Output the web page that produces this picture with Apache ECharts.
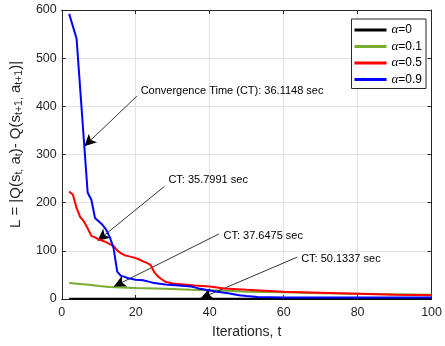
<!DOCTYPE html>
<html><head><meta charset="utf-8">
<script src="https://cdn.jsdelivr.net/npm/echarts@6/dist/echarts.min.js"></script>
<style>html,body{margin:0;padding:0;background:#fff}#c{width:445px;height:346px}</style>
</head><body><div id="c"></div>
<script>
const FONT = '"Liberation Sans", Arial, Helvetica, sans-serif';
const AX = '#262626';

const seriesNames = ['α=0', 'α=0.1', 'α=0.5', 'α=0.9'];
const seriesColors = ['#000000', '#77AC30', '#FF0000', '#0000FF'];

const xTicks = [0, 20, 40, 60, 80, 100];
const yTicks = [0, 100, 200, 300, 400, 500, 600];

// alpha = 0
const tA0 = [2, 100];
const vA0 = [0.5, 0.5];
// alpha = 0.1
const tA1 = [2, 5, 8, 10, 13, 16, 20, 25, 30, 35, 40, 45, 50, 60, 70, 80, 90, 100];
const vA1 = [33, 31, 29, 27, 25, 24, 23, 22, 21, 19, 18, 17, 15, 14, 12, 11, 10, 9];
// alpha = 0.5
const tA5 = [2, 3, 4, 5, 6, 7, 8, 9, 10, 12, 13, 14, 15, 16, 17, 18, 19, 20, 21, 22, 23, 24, 25, 26, 27, 28, 29, 30, 33, 36, 40, 44, 50, 55, 60, 70, 80, 90, 100];
const vA5 = [223, 217, 189, 170, 161, 147, 131, 128, 124, 118, 114, 110, 101, 95, 91, 89, 87, 85, 82, 78, 75, 71, 56, 47, 41, 36, 34, 32, 30, 28, 26, 22, 19, 17, 15, 13, 11, 9, 8];
// alpha = 0.9
const tA9 = [2, 4, 7, 8, 9, 11, 12, 13, 14, 15, 16, 17, 18, 20, 22, 24, 25, 28, 30, 35, 37, 39, 42, 45, 48, 50, 53, 60, 80, 100];
const vA9 = [592, 541, 221, 206, 168, 154, 144, 128, 106, 57, 48, 46, 43, 40, 39, 35, 33, 30, 29, 26, 22, 19, 15, 12, 8, 6, 4, 3, 3, 3];

// annotations: text, text anchor [t, L], arrow start [t, L], arrow tip [t, L]
const annTexts = ['Convergence Time (CT): 36.1148 sec', 'CT: 35.7991 sec', 'CT: 37.6475 sec', 'CT: 50.1337 sec'];
const annTextAt = [[21.2, 431], [28.7, 248], [43.6, 131], [64.6, 83]];
const annFrom = [[20.3, 421], [27.8, 234], [42.5, 135], [63.7, 87]];
const annTo = [[6.1, 317], [9.7, 121], [14.1, 26], [37.6, 1.5]];

const seriesT = [tA0, tA1, tA5, tA9];
const seriesV = [vA0, vA1, vA5, vA9];

const chart = echarts.init(document.getElementById('c'), null, {renderer: 'canvas'});

const lineSeries = seriesNames.map((name, i) => ({
  name: name,
  type: 'line',
  data: seriesT[i].map((t, j) => [t, seriesV[i][j]]),
  showSymbol: false,
  symbol: 'none',
  lineStyle: {color: seriesColors[i], width: 2},
  itemStyle: {color: seriesColors[i]},
  z: 3 + i
}));

const annSeries = {
  name: 'annotations',
  type: 'line',
  data: [],
  silent: true,
  z: 10,
  markLine: {
    silent: true,
    symbol: ['none', 'arrow'],
    symbolSize: [9, 12],
    lineStyle: {color: '#000', width: 0.8, type: 'solid'},
    label: {show: false},
    data: annFrom.map((f, i) => [{coord: f}, {coord: annTo[i]}])
  },
  markPoint: {
    silent: true,
    symbol: 'circle',
    symbolSize: 1,
    itemStyle: {color: 'rgba(0,0,0,0)'},
    label: {show: true, position: 'right', distance: 0, color: '#000', fontSize: 11, fontFamily: FONT},
    data: annTextAt.map((p, i) => ({coord: p, value: annTexts[i], label: {formatter: annTexts[i]}}))
  }
};

const yName = '{p| }{n|L = |Q(s}{s|t,}{n| a}{s|t}{n|)- Q(s}{s|t+1,}{n| a}{s|t+1}{n|)|}';

chart.setOption({
  animation: false,
  backgroundColor: '#fff',
  textStyle: {fontFamily: FONT},
  grid: {left: 59, right: 11, top: 10, bottom: 47},
  legend: {
    data: seriesNames,
    orient: 'vertical',
    right: 19, top: 19,
    backgroundColor: '#fff',
    borderColor: AX, borderWidth: 1,
    padding: [4, 4, 2, 3],
    itemGap: 2.5,
    itemWidth: 32, itemHeight: 3,
    icon: 'rect',
    formatter: n => '{a|α}{b|' + n.slice(1) + '}',
    textStyle: {
      color: '#000', fontSize: 12, lineHeight: 14,
      rich: {
        a: {fontFamily: '"Liberation Serif", serif', fontStyle: 'italic', fontSize: 13, color: '#000'},
        b: {fontFamily: FONT, fontSize: 12, color: '#000'}
      }
    }
  },
  xAxis: [{
    type: 'value', min: 0, max: 100, interval: 20, position: 'bottom',
    axisLine: {show: true, onZero: false, lineStyle: {color: AX, width: 1}},
    axisTick: {show: true, inside: true, length: 4, lineStyle: {color: AX}},
    axisLabel: {color: AX, fontSize: 12.5, margin: 7, formatter: v => xTicks.includes(v) ? String(v) : ''},
    splitLine: {show: true, lineStyle: {color: '#e2e2e2', width: 1}},
    name: 'Iterations, t', nameLocation: 'middle', nameGap: 26,
    nameTextStyle: {fontSize: 14, color: AX}
  }, {
    type: 'value', min: 0, max: 100, interval: 20, position: 'top',
    axisLine: {show: true, onZero: false, lineStyle: {color: AX, width: 1}},
    axisTick: {show: true, inside: true, length: 4, lineStyle: {color: AX}},
    axisLabel: {show: false}, splitLine: {show: false}
  }],
  yAxis: [{
    type: 'value', min: 0, max: 600, interval: 100, position: 'left',
    axisLine: {show: true, onZero: false, lineStyle: {color: AX, width: 1}},
    axisTick: {show: true, inside: true, length: 4, lineStyle: {color: AX}},
    axisLabel: {color: AX, fontSize: 12.5, margin: 5, formatter: v => yTicks.includes(v) ? String(v) : ''},
    splitLine: {show: true, lineStyle: {color: '#e2e2e2', width: 1}},
    name: yName, nameLocation: 'middle', nameGap: 33, nameRotate: 90,
    nameTextStyle: {
      color: AX,
      rich: {
        p: {width: 20, fontSize: 14, lineHeight: 14, verticalAlign: 'top'},
        n: {fontSize: 15, lineHeight: 15, verticalAlign: 'top', color: AX, fontFamily: FONT},
        s: {fontSize: 10.5, lineHeight: 10, padding: [6, 0, 0, 0], verticalAlign: 'top', color: AX, fontFamily: FONT}
      }
    }
  }, {
    type: 'value', min: 0, max: 600, interval: 100, position: 'right',
    axisLine: {show: true, onZero: false, lineStyle: {color: AX, width: 1}},
    axisTick: {show: true, inside: true, length: 4, lineStyle: {color: AX}},
    axisLabel: {show: false}, splitLine: {show: false}
  }],
  series: lineSeries.concat([annSeries])
});
</script>
</body></html>
